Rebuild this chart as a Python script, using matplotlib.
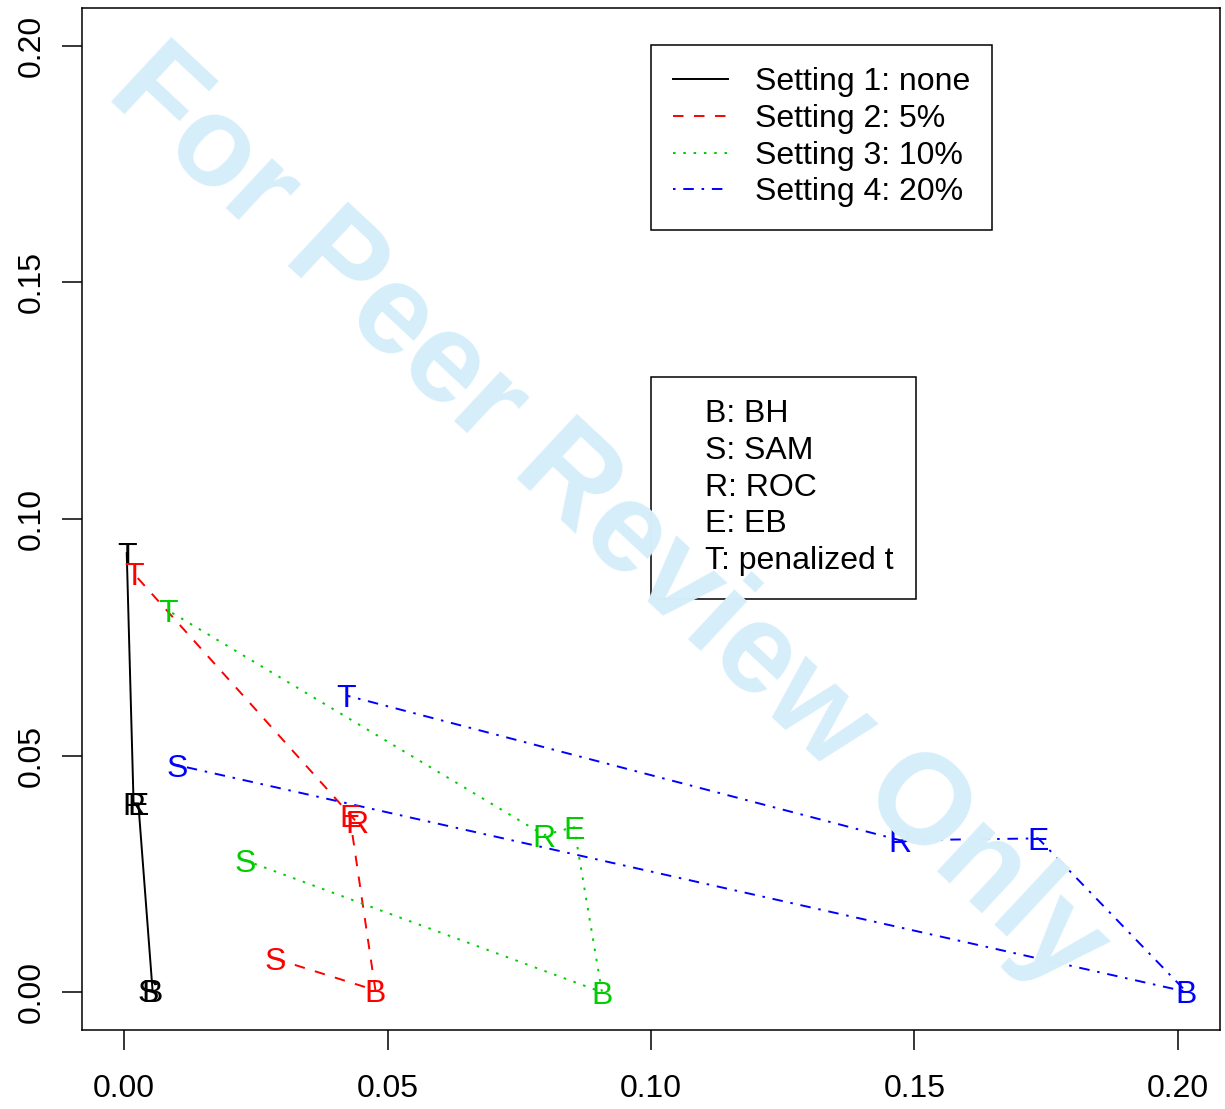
import matplotlib
matplotlib.use("Agg")
import matplotlib.pyplot as plt
from matplotlib.lines import Line2D

# method letters, in the order the lines join them
methods = ["S", "B", "E", "R", "T"]

# (x, y) for each method, per setting
s1_x = [0.0046, 0.0054, 0.0027, 0.0018, 0.0005]
s1_y = [0.0004, 0.0004, 0.0399, 0.0399, 0.0928]
s2_x = [0.0286, 0.0477, 0.0428, 0.0441, 0.0018]
s2_y = [0.0071, 0.0004, 0.0374, 0.0360, 0.0885]
s3_x = [0.0229, 0.0907, 0.0854, 0.0797, 0.0083]
s3_y = [0.0279, 0.0000, 0.0349, 0.0332, 0.0807]
s4_x = [0.0100, 0.2016, 0.1735, 0.1473, 0.0422]
s4_y = [0.0480, 0.0001, 0.0325, 0.0321, 0.0627]

setting_labels = ["Setting 1: none", "Setting 2: 5%", "Setting 3: 10%", "Setting 4: 20%"]
method_labels = ["B: BH", "S: SAM", "R: ROC", "E: EB", "T: penalized t"]
ticks = [0.00, 0.05, 0.10, 0.15, 0.20]

colors = ["black", "#ff0000", "#00cd00", "#0000ff"]
styles = ["-", (0, (5.4, 5.4)), (0, (1.3, 4.0)), (0, (1.3, 4.0, 5.4, 4.0))]

plt.rcParams['font.family'] = ['Liberation Sans', 'DejaVu Sans']
FS = 23
LW = 1.4

fig = plt.figure(figsize=(12.25, 11.09), dpi=100)
ax = fig.add_axes([0.0669, 0.0712, 0.9290, 0.9216])

# watermark
fig.text(0.496, 0.5320, "For Peer Review Only", fontsize=92, fontweight="bold",
         color="#d6eefa", rotation=-43, ha="center", va="center",
         rotation_mode="anchor", zorder=0)
ax.patch.set_alpha(0)

series = [(s1_x, s1_y), (s2_x, s2_y), (s3_x, s3_y), (s4_x, s4_y)]
for (xs, ys), c, ls in zip(series, colors, styles):
    ax.plot(xs, ys, color=c, linestyle=ls, lw=LW, zorder=2)
    for m, x, y in zip(methods, xs, ys):
        ax.text(x, y, m, color=c, fontsize=FS, ha="center", va="center_baseline", zorder=3)

span = 0.2
ax.set_xlim(-0.04 * span, span * 1.04)
ax.set_ylim(-0.04 * span, span * 1.04)
ax.set_xticks(ticks)
ax.set_yticks(ticks)
ax.set_xticklabels([f"{t:.2f}" for t in ticks])
ax.set_yticklabels([f"{t:.2f}" for t in ticks])
ax.tick_params(axis="both", labelsize=FS, length=14.4, width=1.1, direction="out")
ax.tick_params(axis="x", pad=17)
ax.tick_params(axis="y", pad=11, labelrotation=90)
for t in ax.get_yticklabels():
    t.set_va("center")
for s in ax.spines.values():
    s.set_linewidth(1.1)

h1 = [Line2D([], [], color=c, linestyle=ls, lw=LW) for c, ls in zip(colors, styles)]
leg1 = ax.legend(h1, setting_labels, loc="upper left", bbox_to_anchor=(0.500, 0.9638),
                 borderaxespad=0, fontsize=FS, frameon=True, fancybox=False,
                 edgecolor="black", framealpha=1, borderpad=0.7, labelspacing=0.21,
                 handlelength=1.7, handletextpad=0.85)
leg1.get_frame().set_linewidth(1.1)
ax.add_artist(leg1)

h2 = [Line2D([], [], linestyle="none") for _ in method_labels]
leg2 = ax.legend(h2, method_labels, loc="upper left", bbox_to_anchor=(0.500, 0.639),
                 borderaxespad=0, fontsize=FS, frameon=True, fancybox=False,
                 edgecolor="black", framealpha=1, borderpad=0.7, labelspacing=0.21,
                 handlelength=0.5, handletextpad=0.5)
leg2.get_frame().set_linewidth(1.1)

fig.savefig("out.png", dpi=100)
